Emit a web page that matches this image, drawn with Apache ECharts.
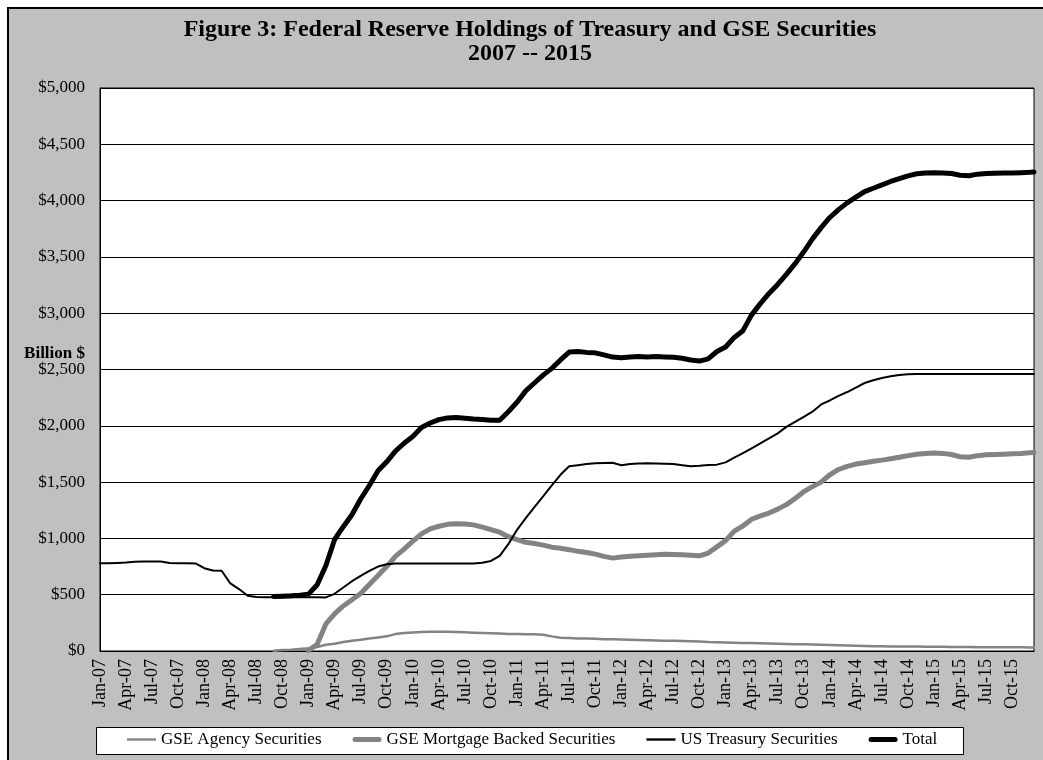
<!DOCTYPE html>
<html><head><meta charset="utf-8">
<script src="https://cdn.jsdelivr.net/npm/echarts@6/dist/echarts.min.js"></script>
<style>html,body{margin:0;padding:0;background:#fff;overflow:hidden}#c{width:1043px;height:760px}</style>
</head><body><div id="c"></div>
<script>
// ---------- DATA ----------
// Monthly observation dates (first of month), plus the last weekly reading of 2015
const dates = [];
for (let y = 2007; y <= 2015; y++) for (let m = 1; m <= 12; m++) dates.push(y + '-' + String(m).padStart(2, '0') + '-01');
dates.push('2015-12-16');

const xTickLabels = ['Jan-07','Apr-07','Jul-07','Oct-07','Jan-08','Apr-08','Jul-08','Oct-08','Jan-09','Apr-09','Jul-09','Oct-09',
  'Jan-10','Apr-10','Jul-10','Oct-10','Jan-11','Apr-11','Jul-11','Oct-11','Jan-12','Apr-12','Jul-12','Oct-12',
  'Jan-13','Apr-13','Jul-13','Oct-13','Jan-14','Apr-14','Jul-14','Oct-14','Jan-15','Apr-15','Jul-15','Oct-15'];

const seriesNames = ['GSE Agency Securities', 'GSE Mortgage Backed Securities', 'US Treasury Securities', 'Total'];

// Billion $
const agency = [
  null,null,null,null,null,null,null,null,null,null,null,null,
  null,null,null,null,null,null,null,null,3,8,12,18,
  25,35,55,65,80,92,100,110,120,130,150,160,
  165,168,170,172,170,168,166,162,159,157,155,152,
  150,148,148,145,130,118,115,112,110,108,105,104,
  102,100,98,96,94,92,90,88,86,84,80,78,
  76,74,72,70,68,67,65,63,61,59,57,55,
  53,50,48,46,44,43,42,41,40,39,39,38,
  38,37,36,35,35,34,34,33,33,33,33,32,
  32];

const mbs = [
  null,null,null,null,null,null,null,null,null,null,null,null,
  null,null,null,null,null,null,null,null,null,null,null,null,
  5,60,240,330,400,455,510,590,670,750,840,905,
  975,1040,1085,1108,1125,1130,1128,1120,1100,1078,1055,1015,
  990,965,955,940,922,912,900,885,875,860,840,825,
  835,842,845,850,855,860,858,855,850,845,870,925,
  980,1065,1110,1170,1200,1225,1260,1300,1355,1415,1460,1500,
  1565,1612,1640,1660,1672,1685,1695,1708,1720,1735,1748,1755,
  1758,1755,1745,1725,1720,1735,1742,1745,1748,1752,1755,1760,
  1762];

const treasury = [
  780,780,782,785,792,795,795,795,782,780,780,778,
  735,715,713,600,550,490,480,478,477,478,478,478,
  478,478,476,508,564,620,667,712,750,770,778,777,
  777,777,777,777,777,777,778,778,784,800,845,949,
  1076,1180,1277,1373,1470,1565,1640,1650,1660,1668,1670,1672,
  1650,1660,1665,1668,1665,1663,1660,1650,1640,1645,1652,1655,
  1675,1717,1758,1800,1844,1889,1933,1990,2035,2080,2125,2190,
  2225,2265,2300,2340,2380,2405,2425,2440,2452,2458,2461,2461,
  2461,2461,2461,2461,2461,2461,2461,2461,2461,2461,2461,2461,
  2461];

const total = [
  null,null,null,null,null,null,null,null,null,null,null,null,
  null,null,null,null,null,null,null,null,485,487,490,495,
  505,588,760,990,1104,1210,1350,1470,1600,1680,1775,1845,
  1905,1985,2025,2055,2070,2074,2068,2060,2055,2050,2050,2125,
  2210,2310,2380,2450,2510,2585,2655,2660,2652,2648,2630,2610,
  2605,2612,2615,2612,2615,2612,2608,2600,2585,2575,2595,2660,
  2700,2785,2845,2985,3085,3175,3255,3345,3440,3545,3660,3760,
  3850,3920,3980,4030,4080,4110,4140,4170,4195,4220,4238,4245,
  4248,4245,4240,4225,4220,4235,4240,4242,4245,4245,4248,4252,
  4255];

// ---------- CHART ----------
const FONT = '"Liberation Serif","Times New Roman",serif';
function monthIndex(d) { const p = d.split('-').map(Number); return (p[0] - 2007) * 12 + (p[1] - 1) + (p[2] - 1) / 31; }
function pairs(vals) { return vals.map((v, i) => [monthIndex(dates[i]), v]); }

const GRAY = '#838383';
const thinIcon = 'path://M0,0 M29,12 M0,4.8 L29,4.8 L29,7.2 L0,7.2 Z';
const thickIcon = 'path://M0,0 M29,12 M2.5,3.5 L26.5,3.5 A2.5,2.5 0 0 1 26.5,8.5 L2.5,8.5 A2.5,2.5 0 0 1 2.5,3.5 Z';

const chart = echarts.init(document.getElementById('c'), null, { renderer: 'canvas' });
const mk = (name, vals, color, width) => ({
  name, type: 'line', data: pairs(vals), showSymbol: false, symbol: 'none',
  lineStyle: { color, width, join: 'round', cap: 'round' }, itemStyle: { color },
  connectNulls: false, silent: true, emphasis: { disabled: true }
});

chart.setOption({
  animation: false,
  backgroundColor: '#ffffff',
  graphic: [
    { type: 'rect', z: -100, silent: true, shape: { x: 8, y: 8, width: 1100, height: 800 },
      style: { fill: '#c0c0c0', stroke: '#000', lineWidth: 2 } },
    { type: 'rect', z: 0, silent: true, shape: { x: 96.5, y: 727.5, width: 867, height: 27 },
      style: { fill: '#fff', stroke: '#000', lineWidth: 1 } },
    { type: 'text', silent: true, x: 530, y: 30,
      style: { text: 'Figure 3: Federal Reserve Holdings of Treasury and GSE Securities', align: 'center', verticalAlign: 'middle',
        font: 'bold 24px ' + FONT, fill: '#000' } },
    { type: 'text', silent: true, x: 530, y: 54,
      style: { text: '2007 -- 2015', align: 'center', verticalAlign: 'middle', font: 'bold 24px ' + FONT, fill: '#000' } },
    { type: 'text', silent: true, x: 85, y: 354,
      style: { text: 'Billion $', align: 'right', verticalAlign: 'middle', font: 'bold 17px ' + FONT, fill: '#000' } }
  ],
  grid: { left: 100, top: 88, width: 934, height: 563, show: true, backgroundColor: '#fff', borderColor: '#000', borderWidth: 1, containLabel: false },
  xAxis: {
    type: 'value', min: 0, max: 107.5, interval: 3,
    axisLine: { show: true, lineStyle: { color: '#000' } },
    axisTick: { show: false }, splitLine: { show: false },
    axisLabel: {
      rotate: 90, margin: 8, fontSize: 18, fontFamily: FONT, color: '#000', showMaxLabel: false,
      formatter: v => (Math.abs(v % 3) < 1e-9 ? (xTickLabels[Math.round(v / 3)] || '') : '')
    }
  },
  yAxis: {
    type: 'value', min: 0, max: 5000, interval: 500,
    axisLine: { show: true, lineStyle: { color: '#000' } },
    axisTick: { show: false },
    splitLine: { show: true, lineStyle: { color: '#000', width: 1 } },
    axisLabel: { margin: 15, fontSize: 17, fontFamily: FONT, color: '#000',
      formatter: v => '$' + v.toLocaleString('en-US') }
  },
  legend: {
    data: [
      { name: seriesNames[0], icon: thinIcon },
      { name: seriesNames[1], icon: thickIcon },
      { name: seriesNames[2], icon: thinIcon },
      { name: seriesNames[3], icon: thickIcon }
    ],
    left: 127, top: 731, orient: 'horizontal', padding: 0,
    itemWidth: 29, itemHeight: 12, itemGap: 31, selectedMode: false,
    textStyle: { fontSize: 17, fontFamily: FONT, color: '#000' }
  },
  series: [
    mk(seriesNames[0], agency, GRAY, 2.5),
    mk(seriesNames[1], mbs, GRAY, 5),
    mk(seriesNames[2], treasury, '#000000', 2),
    mk(seriesNames[3], total, '#000000', 5)
  ]
});
</script></body></html>
